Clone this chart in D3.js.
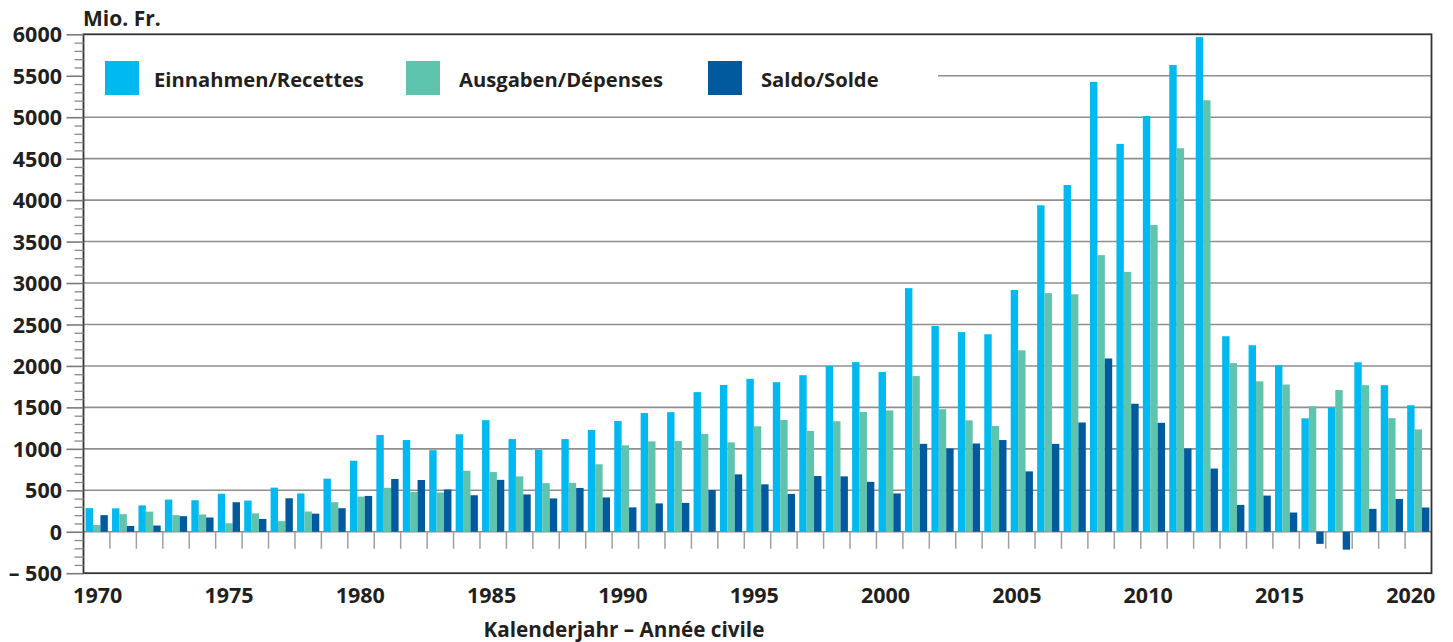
<!DOCTYPE html>
<html>
<head>
<meta charset="utf-8">
<script src="https://cdn.jsdelivr.net/npm/d3@7/dist/d3.min.js"></script>
<style>
  html, body { margin: 0; padding: 0; background: #fff; }
  svg { display: block; }
  text { font-family: "Open Sans", "DejaVu Sans", sans-serif; font-weight: 700; fill: #231f20; }
</style>
</head>
<body>
<svg id="chart" width="1453" height="642"></svg>
<script>
// Calendar years 1970–2020, values in million francs
const years = d3.range(1970, 2021);

const einnahmen = [
  285, 282, 318, 388, 380, 458, 376, 532, 462, 640,
  856, 1166, 1106, 984, 1176, 1346, 1118, 988, 1118, 1228,
  1336, 1432, 1442, 1684, 1770, 1844, 1804, 1888, 2000, 2046,
  1926, 2938, 2482, 2408, 2382, 2916, 3938, 4182, 5426, 4678,
  5014, 5630, 5966, 2358, 2250, 2008, 1368, 1494, 2044, 1768,
  1526
];

const ausgaben = [
  80, 212, 243, 200, 208, 102, 222, 128, 244, 356,
  424, 530, 482, 474, 736, 720, 668, 586, 590, 814,
  1042, 1090, 1094, 1180, 1078, 1272, 1348, 1216, 1332, 1444,
  1464, 1878, 1478, 1344, 1276, 2188, 2878, 2864, 3336, 3134,
  3700, 4626, 5204, 2034, 1814, 1776, 1514, 1710, 1768, 1370,
  1234
];

const saldo = [
  200, 70, 75, 188, 172, 356, 154, 404, 218, 284,
  432, 636, 624, 510, 440, 626, 450, 402, 528, 414,
  294, 342, 348, 504, 692, 572, 456, 672, 668, 602,
  462, 1060, 1004, 1064, 1106, 728, 1060, 1318, 2090, 1544,
  1314, 1004, 762, 324, 436, 232, -146, -216, 276, 396,
  292
];

const seriesNames = ["Einnahmen/Recettes", "Ausgaben/Dépenses", "Saldo/Solde"];
const seriesColors = ["#00b9f0", "#5ec4ad", "#005a9d"];
const seriesValues = [einnahmen, ausgaben, saldo];

const yTicksMajor = d3.range(-500, 6001, 500);
const yTicksMinor = d3.range(-500, 6001, 100);
const xLabelYears = d3.range(1970, 2021, 5);

const unitLabel = "Mio. Fr.";
const xTitle = "Kalenderjahr – Année civile";

// ---- layout ----
const plot = { left: 83.5, right: 1431.5, top: 34.3, bottom: 573.2 };

const svg = d3.select("#chart");

const x = d3.scaleBand()
  .domain(years)
  .range([plot.left, plot.right])
  .paddingInner(0)
  .paddingOuter(0);

const bw = x.bandwidth();
const barW = bw * 0.28;
const barOffset = (bw - 3 * barW) / 2;

const y = d3.scaleLinear()
  .domain([-500, 6000])
  .range([plot.bottom, plot.top]);

// year labels are spaced slightly tighter than the bar groups
const xLabel = d3.scaleLinear()
  .domain([1970, 2020])
  .range([x(1970) + bw / 2 + 1, x(2020) + bw / 2 - 7.5]);

// ---- grid ----
const gridGroup = svg.append("g");
gridGroup.selectAll("line")
  .data(yTicksMajor.filter(v => v > -500 && v < 6000))
  .join("line")
  .attr("x1", plot.left)
  .attr("x2", plot.right)
  .attr("y1", d => y(d))
  .attr("y2", d => y(d))
  .attr("stroke", "#8f8f8f")
  .attr("stroke-width", 1.6);

// white panel behind the legend
svg.append("rect")
  .attr("x", plot.left + 1)
  .attr("y", 48)
  .attr("width", 938 - plot.left - 1)
  .attr("height", 58)
  .attr("fill", "#fff");

// year separators below the zero line
svg.append("g")
  .selectAll("line")
  .data(years.slice(1))
  .join("line")
  .attr("x1", d => x(d))
  .attr("x2", d => x(d))
  .attr("y1", y(0))
  .attr("y2", y(0) + 17)
  .attr("stroke", "#a0a0a0")
  .attr("stroke-width", 1.5);

// ---- bars ----
seriesValues.forEach((vals, si) => {
  svg.append("g")
    .attr("fill", seriesColors[si])
    .selectAll("rect")
    .data(years.map((yr, i) => ({ yr, v: vals[i] })))
    .join("rect")
    .attr("x", d => x(d.yr) + barOffset + si * barW)
    .attr("width", barW)
    .attr("y", d => y(Math.max(0, d.v)))
    .attr("height", d => Math.abs(y(d.v) - y(0)));
});

// ---- frame ----
svg.append("rect")
  .attr("x", plot.left)
  .attr("y", plot.top)
  .attr("width", plot.right - plot.left)
  .attr("height", plot.bottom - plot.top)
  .attr("fill", "none")
  .attr("stroke", "#333")
  .attr("stroke-width", 1.8);

// ---- y axis ----
const fmtY = d => d < 0 ? "– " + Math.abs(d) : String(d);

const yMinor = svg.append("g")
  .attr("transform", `translate(${plot.left},0)`)
  .call(d3.axisLeft(y).tickValues(yTicksMinor.filter(v => v % 500 !== 0)).tickSize(9).tickFormat(""));
yMinor.select(".domain").remove();
yMinor.selectAll(".tick line").attr("stroke", "#8a8a8a").attr("stroke-width", 1.3);

const yMajor = svg.append("g")
  .attr("transform", `translate(${plot.left},0)`)
  .call(d3.axisLeft(y).tickValues(yTicksMajor).tickSize(17).tickPadding(4.5).tickFormat(fmtY));
yMajor.select(".domain").remove();
yMajor.selectAll(".tick line").attr("stroke", "#7a7a7a").attr("stroke-width", 1.6);
yMajor.selectAll(".tick text")
  .attr("font-size", 21.5)
  .attr("dy", "0.35em")
  .style("font-family", '"Open Sans", sans-serif')
  .style("font-weight", 700)
  .attr("fill", "#231f20");

// ---- x labels ----
svg.append("g")
  .selectAll("text")
  .data(xLabelYears)
  .join("text")
  .attr("x", d => xLabel(d))
  .attr("y", 603)
  .attr("text-anchor", "middle")
  .attr("font-size", 21.5)
  .text(d => d);

svg.append("text")
  .attr("x", 624)
  .attr("y", 636.5)
  .attr("text-anchor", "middle")
  .attr("font-size", 20.7)
  .text(xTitle);

svg.append("text")
  .attr("x", 83)
  .attr("y", 26)
  .attr("font-size", 21)
  .text(unitLabel);

// ---- legend ----
const legendX = [105, 406, 708];
const legendTextX = [154, 459, 761];
const legend = svg.append("g");
seriesNames.forEach((name, i) => {
  legend.append("rect")
    .attr("x", legendX[i])
    .attr("y", 61)
    .attr("width", 34)
    .attr("height", 34)
    .attr("fill", seriesColors[i]);
  legend.append("text")
    .attr("x", legendTextX[i])
    .attr("y", 87)
    .attr("font-size", 20.2)
    .text(name);
});
</script>
</body>
</html>
